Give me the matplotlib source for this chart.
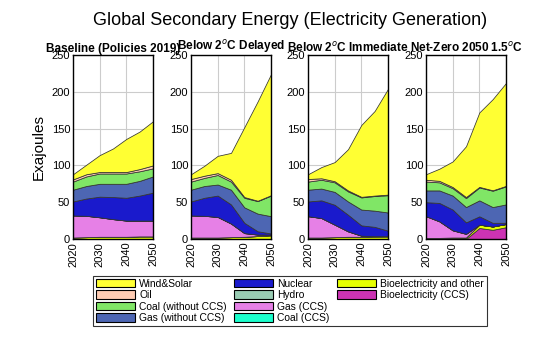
import matplotlib
matplotlib.use("Agg")
import matplotlib.pyplot as plt
from matplotlib.patches import Rectangle

plt.rcParams['font.family'] = ['Liberation Sans', 'DejaVu Sans']

years = [2020, 2025, 2030, 2035, 2040, 2045, 2050]
scenarios = ["Baseline (Policies 2019)", "Below 2$^o$C Delayed",
             "Below 2$^o$C Immediate", "Net-Zero 2050 1.5$^o$C"]

# layer thicknesses (EJ), one row per scenario
bio_ccs = [[0, 0, 0, 0, 0, 0, 0],
           [0, 0, 0, 0, 0, 0, 0],
           [0, 0, 0, 0, 0, 0, 0],
           [0, 0, 0, 0, 15, 12.5, 16]]
bio_other = [[2, 2.5, 3, 3, 3, 3.5, 3.5],
             [2, 2, 2, 2.5, 3, 4, 5],
             [2, 2, 2.5, 3, 3, 3.5, 3.6],
             [1.5, 1.5, 2, 2, 4.5, 4.5, 4.4]]
coal_ccs = [[0, 0, 0, 0, 0, 0, 0],
            [0, 0, 0, 0, 0, 0, 0],
            [0, 0, 0, 0, 0, 0, 0],
            [0, 0, 0, 0, 0, 0, 0]]
gas_ccs = [[30, 29, 26.5, 24, 22, 21.5, 21.5],
           [30, 29.5, 28, 18.5, 5, 2, 1],
           [29, 26.5, 17, 7.4, 1.5, 0.3, 0.2],
           [29.5, 22.5, 9.8, 5, 0, 0, 0]]
hydro = [[0, 0, 0, 0, 0, 0, 0],
         [0, 0, 0, 0, 0, 0, 0],
         [0, 0, 0, 0, 0, 0, 0],
         [0, 0, 0, 0, 0, 0, 0]]
nuclear = [[19, 23.5, 28, 30, 31, 34, 38],
           [19, 24.5, 29, 26, 14, 4.5, 1.5],
           [20, 24, 27, 22.6, 14, 12.7, 7.5],
           [19, 25, 28.2, 15.6, 11.3, 5, 1.6]]
gas = [[16, 17, 17.5, 18, 19, 20, 22],
       [16, 16, 15, 20, 21, 24, 23.5],
       [16, 16, 17.5, 18, 21.5, 22, 24.7],
       [16, 17, 19, 20.8, 21.7, 21.4, 25]]
coal = [[11, 13, 14, 14, 14, 13, 11],
        [11, 11, 13, 11, 13, 17, 28],
        [11, 12, 13, 13.7, 16.5, 19.9, 23.5],
        [12, 11, 10, 12.2, 17.5, 22.2, 24.5]]
oil = [[3, 3, 2, 2, 2, 3, 4],
       [3.5, 3, 2.5, 2.5, 1, 0.5, 0.5],
       [3.5, 2, 1.5, 1.3, 0.8, 0.6, 0.8],
       [2.5, 2, 1.6, 1.4, 0.8, 0.6, 0.7]]
wind_solar = [[7, 13, 23, 32, 45, 51, 60],
              [6.5, 13.5, 23.5, 36.5, 95, 135, 164.5],
              [6.5, 15.2, 26, 56, 97.7, 115, 143.7],
              [7.5, 16.5, 34.8, 69, 101.2, 123.8, 139.8]]

labels = ["Wind&Solar", "Oil", "Coal (without CCS)", "Gas (without CCS)",
          "Nuclear", "Hydro", "Gas (CCS)", "Coal (CCS)",
          "Bioelectricity and other", "Bioelectricity (CCS)"]
colors = ["#FFFF33", "#FFCCB3", "#80E666", "#4D66B3",
          "#1A1ACC", "#99CCB3", "#E680E6", "#1AFFCC",
          "#E6FF00", "#CC33B3"]
series = [wind_solar, oil, coal, gas, nuclear, hydro, gas_ccs, coal_ccs,
          bio_other, bio_ccs]

fig = plt.figure(figsize=(5.6, 3.37), dpi=100)
lefts = [73, 191, 308, 426]
axw = 80
bottom = 1 - 239 / 337
height = (239 - 55) / 337
axes = []
for i, name in enumerate(scenarios):
    ax = fig.add_axes([lefts[i] / 560, bottom, axw / 560, height])
    ys = [s[i] for s in series][::-1]
    cs = colors[::-1]
    ax.stackplot(years, *ys, colors=cs, edgecolor='#333333', linewidth=0.55)
    ax.set_xlim(2020, 2050)
    ax.set_ylim(0, 250)
    ax.set_xticks([2020, 2030, 2040, 2050])
    ax.set_yticks([0, 50, 100, 150, 200, 250])
    ax.tick_params(axis='x', labelrotation=90, labelsize=8, length=0, pad=2)
    ax.tick_params(axis='y', labelsize=8, length=0, pad=2)
    ax.grid(True, color='#cccccc', linewidth=0.8)
    ax.set_axisbelow(True)
    for sp in ax.spines.values():
        sp.set_linewidth(1.0)
        sp.set_color('black')
        sp.set_zorder(5)
    ax.set_title(name, fontsize=8.5, fontweight='bold', pad=2)
    axes.append(ax)

axes[0].set_ylabel("Exajoules", fontsize=11, labelpad=4)
fig.suptitle("Global Secondary Energy (Electricity Generation)", fontsize=13,
             x=0.518, y=0.965)

handles = [Rectangle((0, 0), 1, 1, facecolor=c, edgecolor='black', linewidth=0.8)
           for c in colors]
handles += [Rectangle((0, 0), 1, 1, visible=False)] * 2
leg_labels = labels + ["", ""]
leg = fig.legend(handles, leg_labels, ncol=3, loc='center',
                 bbox_to_anchor=(0.518, 0.107), fontsize=7.4,
                 frameon=True, fancybox=False, edgecolor='black',
                 handlelength=3.8, handleheight=0.9, labelspacing=0.15,
                 columnspacing=0.7, handletextpad=0.4, borderpad=0.3)
leg.get_frame().set_linewidth(0.8)

fig.savefig("out.png", dpi=100)
